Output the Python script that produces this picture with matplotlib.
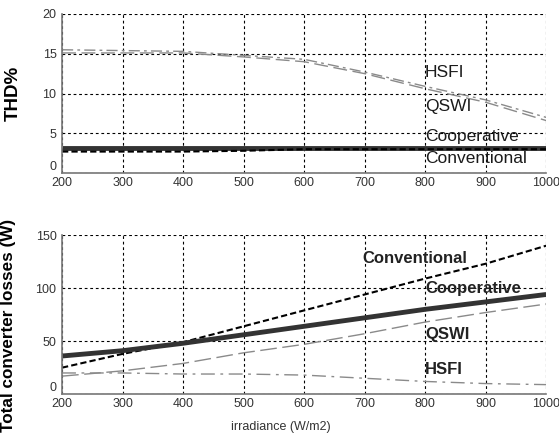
import matplotlib

matplotlib.use('Agg')
import matplotlib.pyplot as plt

# --- данные ---
irradiance = [200, 300, 400, 500, 600, 700, 800, 900, 1000]

thd_hsfi = [15.5, 15.4, 15.3, 14.8, 14.3, 12.7, 10.9, 9.2, 7.0]
thd_qswi = [15.1, 15.1, 15.1, 14.6, 14.0, 12.5, 10.6, 8.9, 6.6]
thd_cooperative = [3.1, 3.1, 3.1, 3.1, 3.1, 3.1, 3.1, 3.1, 3.1]
thd_conventional = [2.7, 2.7, 2.7, 2.8, 3.0, 3.0, 3.0, 3.0, 3.0]

loss_conventional = [25, 38, 49, 64, 79, 94, 109, 123, 140]
loss_cooperative = [36, 41, 48, 56, 64, 72, 80, 87, 94]
loss_qswi = [17, 22, 29, 39, 47, 57, 68, 77, 85]
loss_hsfi = [20, 20, 19, 19, 18, 15, 12, 10, 9]

# --- стили ---
GRAY = '#8a8a8a'
DARK = '#333333'
TICK_FS = 9
plt.rcParams['font.family'] = ['Liberation Sans', 'DejaVu Sans']

fig = plt.figure(figsize=(5.59, 4.37), dpi=100)
ax1 = fig.add_axes([0.111, 0.604, 0.866, 0.364])
ax2 = fig.add_axes([0.111, 0.098, 0.866, 0.364])


def style_axes(ax):
    ax.set_xlim(200, 1000)
    ax.set_xticks(irradiance)
    ax.grid(True, color='black', linestyle=(0, (2.5, 2.5)), linewidth=0.8)
    ax.set_axisbelow(True)
    for side in ('top', 'right'):
        ax.spines[side].set_visible(False)
    for side in ('left', 'bottom'):
        ax.spines[side].set_color('#777777')
        ax.spines[side].set_linewidth(1.2)
    ax.tick_params(direction='in', length=0, labelsize=TICK_FS, colors='#333333', pad=4)
    ax.tick_params(axis='x', pad=3)


# --- верхний график: THD ---
ax1.plot(irradiance, thd_hsfi, color=GRAY, lw=1.0, linestyle=(0, (8, 3, 2, 3)))
ax1.plot(irradiance, thd_qswi, color=GRAY, lw=1.0, linestyle=(0, (10, 4)))
ax1.plot(irradiance, thd_cooperative, color=DARK, lw=3.5, solid_capstyle='butt')
ax1.plot(irradiance, thd_conventional, color='black', lw=1.5, linestyle=(0, (3, 1.5)))
style_axes(ax1)
ax1.set_ylim(0, 20)
ax1.set_yticks([0, 5, 10, 15, 20])
ax1.set_ylabel('THD%', fontsize=13.5, fontweight='bold')
ax1.yaxis.set_label_coords(-0.083, 0.5)

for txt, yv in [('HSFI', 12.6), ('QSWI', 8.4), ('Cooperative', 4.6), ('Conventional', 1.8)]:
    ax1.text(800, yv, txt, fontsize=12.5, color='#1a1a1a', va='center', ha='left')

# --- нижний график: потери ---
ax2.plot(irradiance, loss_conventional, color='black', lw=1.5, linestyle=(0, (3, 1.5)))
ax2.plot(irradiance, loss_cooperative, color=DARK, lw=3.5, solid_capstyle='butt')
ax2.plot(irradiance, loss_qswi, color=GRAY, lw=1.0, linestyle=(0, (12, 4)))
ax2.plot(irradiance, loss_hsfi, color=GRAY, lw=1.0, linestyle=(0, (10, 4, 2, 4)))
style_axes(ax2)
ax2.set_ylim(0, 150)
ax2.set_yticks([0, 50, 100, 150])
ax2.set_ylabel('Total converter losses (W)', fontsize=12.3, fontweight='bold')
ax2.yaxis.set_label_coords(-0.095, 0.43)
ax2.set_xlabel('irradiance (W/m2)', fontsize=9, color='#333333')
ax2.xaxis.set_label_coords(0.452, -0.17)

for txt, xv, yv in [('Conventional', 697, 128), ('Cooperative', 800, 100),
                    ('QSWI', 800, 56), ('HSFI', 800, 23)]:
    ax2.text(xv, yv, txt, fontsize=12, fontweight='bold', color='#222222', va='center', ha='left')

# "0" сидит чуть выше оси, чтобы не наезжать на "200"
for ax in (ax1, ax2):
    ax.yaxis.get_major_ticks()[0].label1.set_verticalalignment('bottom')

fig.savefig('out.png', dpi=100)
